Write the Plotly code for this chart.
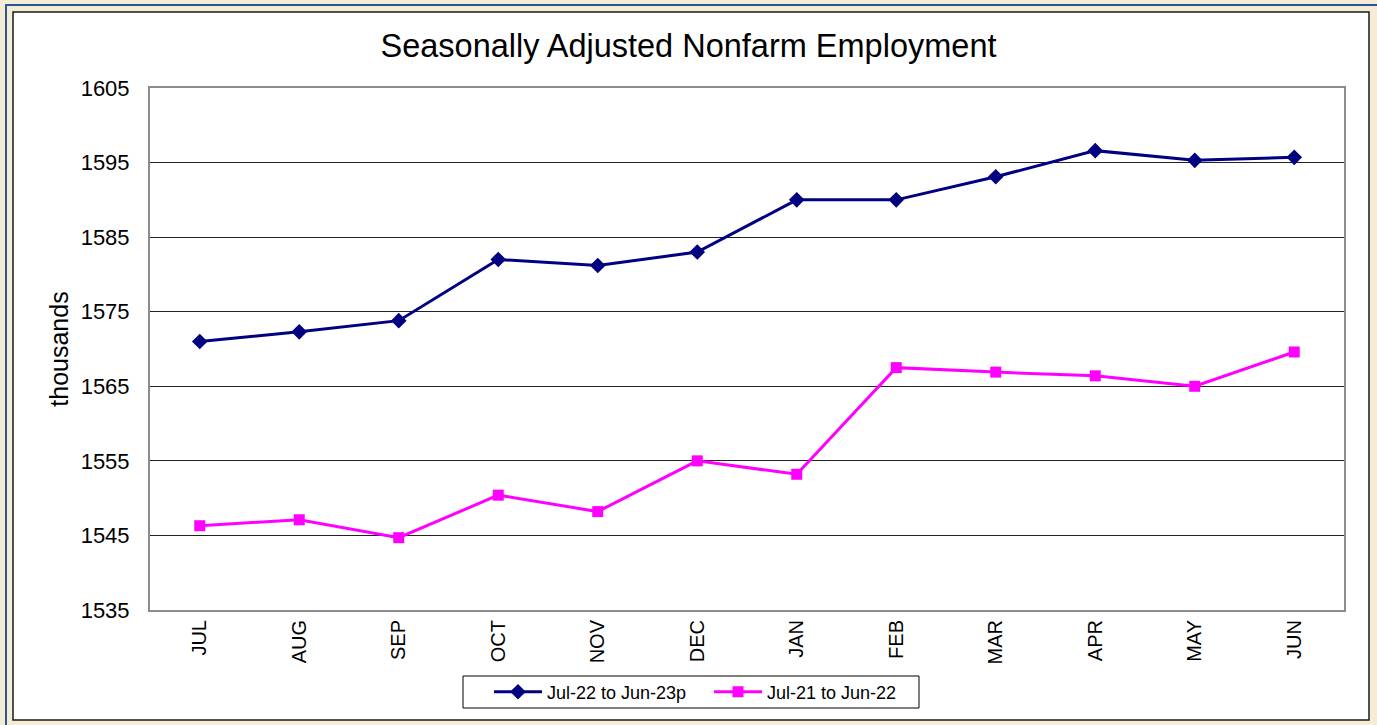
import plotly.graph_objects as go

months = ["JUL", "AUG", "SEP", "OCT", "NOV", "DEC", "JAN", "FEB", "MAR", "APR", "MAY", "JUN"]
series_current_name = "Jul-22 to Jun-23p"
series_current = [1571.0, 1572.3, 1573.8, 1582.0, 1581.2, 1583.0, 1590.0, 1590.0, 1593.1, 1596.6, 1595.3, 1595.7]
series_prior_name = "Jul-21 to Jun-22"
series_prior = [1546.3, 1547.1, 1544.7, 1550.4, 1548.2, 1555.0, 1553.2, 1567.5, 1566.9, 1566.4, 1565.0, 1569.6]
y_ticks = [1535, 1545, 1555, 1565, 1575, 1585, 1595, 1605]

W, H = 1377, 725
L, R, T, B = 150, 33, 88, 115
pw, ph = W - L - R, H - T - B


def px_x(p):
    return (p - L) / pw


def px_y(p):
    return (H - B - p) / ph


fig = go.Figure()
fig.add_trace(go.Scatter(
    x=months, y=series_current, name=series_current_name, mode="lines+markers",
    line=dict(color="#000080", width=3),
    marker=dict(symbol="diamond", size=12, color="#000080"),
))
fig.add_trace(go.Scatter(
    x=months, y=series_prior, name=series_prior_name, mode="lines+markers",
    line=dict(color="#FF00FF", width=3),
    marker=dict(symbol="square", size=11, color="#FF00FF"),
))

shapes = [
    dict(type="rect", xref="paper", yref="paper", layer="below",
         x0=px_x(6), x1=px_x(1420), y0=px_y(760), y1=px_y(5),
         line=dict(color="#2B5797", width=2), fillcolor="#F4ECD4"),
    dict(type="rect", xref="paper", yref="paper", layer="below",
         x0=px_x(13), x1=px_x(1369), y0=px_y(720), y1=px_y(12),
         line=dict(color="#1a1a1a", width=1.5), fillcolor="white"),
    # legend frame
    dict(type="rect", xref="paper", yref="paper", layer="below",
         x0=px_x(463), x1=px_x(919), y0=px_y(708), y1=px_y(676),
         line=dict(color="black", width=1), fillcolor="white"),
]

fig.update_layout(
    width=W, height=H,
    margin=dict(l=L, r=R, t=T, b=B, autoexpand=False),
    paper_bgcolor="#F4ECD4",
    plot_bgcolor="white",
    font=dict(family="Liberation Sans, Arial, sans-serif", color="black"),
    title=dict(text="Seasonally Adjusted Nonfarm Employment", x=0.5, xref="container",
               xanchor="center", y=1 - 46 / H, yanchor="middle",
               font=dict(size=32.5, color="black")),
    shapes=shapes,
    showlegend=True,
    legend=dict(orientation="h", xref="container", yref="container",
                x=489 / W, xanchor="left", y=(H - 692) / H, yanchor="middle",
                bgcolor="rgba(0,0,0,0)", borderwidth=0,
                font=dict(size=18, color="black"), itemwidth=48,
                entrywidth=157, entrywidthmode="pixels"),
    xaxis=dict(type="category", range=[-0.5, 11.5], tickangle=-90,
               tickfont=dict(size=20), showgrid=False, ticks="",
               showline=True, mirror=True, linecolor="#8c8c8c", linewidth=2,
               ticklabelstandoff=0, automargin=False),
    yaxis=dict(range=[1535, 1605], tickvals=y_ticks, tickfont=dict(size=22),
               showgrid=True, gridcolor="#222222", gridwidth=1, ticks="",
               showline=True, mirror=True, linecolor="#8c8c8c", linewidth=2,
               zeroline=False, ticklabelstandoff=14, automargin=False,
               title=dict(text="thousands", font=dict(size=25), standoff=5)),
)

fig.write_html("out.html", config={"displayModeBar": False},
               post_script="document.body.style.margin='0px';document.body.style.overflow='hidden';")
